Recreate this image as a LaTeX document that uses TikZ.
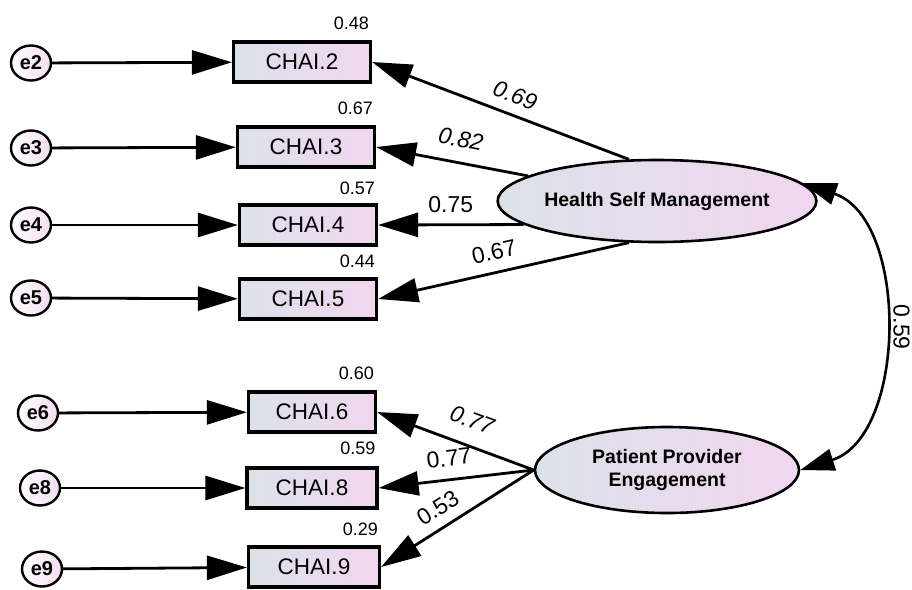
\documentclass[tikz,border=0pt]{standalone}
\usepackage{fontspec}
\setmainfont{Liberation Sans}
\usepackage{tikz}
\usetikzlibrary{shapes.geometric, arrows.meta, positioning}

\definecolor{boxL}{HTML}{DCE1E9}
\definecolor{boxR}{HTML}{F1D6F0}
\definecolor{errR}{HTML}{F3DDF2}

\begin{document}
\begin{tikzpicture}[x=1pt, y=-1pt,
    item/.style={draw, line width=3.2pt, minimum width=137pt, minimum height=40pt, inner sep=0pt, left color=boxL, right color=boxR, font=\fontsize{22.5}{24}\selectfont},
    err/.style={ellipse, draw, line width=2.4pt, minimum width=40pt, minimum height=35pt, inner sep=0pt, left color=white, right color=errR, font=\bfseries\fontsize{20}{22}\selectfont},
    factor/.style={ellipse, draw, line width=2.6pt, inner sep=0pt, align=center, left color=boxL, right color=boxR, font=\bfseries\fontsize{19.5}{23}\selectfont},
    reg/.style={line width=2.8pt, -{Triangle[length=40pt, width=24pt]}},
    load/.style={line width=2.8pt, {Triangle[length=40pt, width=24pt]}-},
    cov/.style={line width=2.6pt, {Triangle[length=34pt, width=22pt]}-{Triangle[length=34pt, width=22pt]}},
    wt/.style={inner sep=1pt, font=\fontsize{23}{24}\selectfont},
    wti/.style={inner sep=1pt, font=\itshape\fontsize{23}{24}\selectfont},
    sq/.style={inner sep=0pt, font=\fontsize{18}{20}\selectfont}
]
    \useasboundingbox (0,0) rectangle (912,589);

    % Error terms
    \node[err] (e2) at (31,63) {e2};
    \node[err] (e3) at (31,148) {e3};
    \node[err] (e4) at (31,225) {e4};
    \node[err] (e5) at (31,298) {e5};
    \node[err] (e6) at (38,413) {e6};
    \node[err] (e8) at (40,488) {e8};
    \node[err] (e9) at (42,569) {e9};

    % Items
    \node[item] (c2) at (302,62) {CHAI.2};
    \node[item] (c3) at (306,147) {CHAI.3};
    \node[item] (c4) at (308,225) {CHAI.4};
    \node[item] (c5) at (308,299) {CHAI.5};
    \node[item, minimum width=127pt] (c6) at (312,412) {CHAI.6};
    \node[item, minimum width=130pt] (c8) at (312,488) {CHAI.8};
    \node[item, minimum width=131pt] (c9) at (314,567) {CHAI.9};

    % Squared multiple correlations
    \node[sq, above left=11pt and 3pt of c2.north east] (r2) {0.48};
    \node[sq, above left=11pt and 3pt of c3.north east] (r3) {0.67};
    \node[sq, above left=9pt and 3pt of c4.north east] (r4) {0.57};
    \node[sq, above left=10pt and 3pt of c5.north east] (r5) {0.44};
    \node[sq, above left=11pt and 3pt of c6.north east] (r6) {0.60};
    \node[sq, above left=12pt and 3pt of c8.north east] (r8) {0.59};
    \node[sq, above left=10pt and 3pt of c9.north east] (r9) {0.29};

    % Factors
    \node[factor, minimum width=276pt, minimum height=82pt] (hsm) at (657,201) {Health Self Management};
    \node[factor, minimum width=264pt, minimum height=86pt] (ppe) at (667,470) {Patient Provider\\Engagement};

    % Error paths
    \foreach \i in {2,3,4,5,6,8,9}
        \draw[reg] (e\i) -- (c\i);

    % Loadings
    \draw[load] (c2.east) -- (hsm.124) node[wti, sloped, above=9pt, pos=0.53] {0.69};
    \draw[load] (c3.east) -- (hsm.169.5) node[wti, sloped, above=13pt, pos=0.53] {0.82};
    \draw[load] (c4.east) -- (hsm.190.5) node[wt, sloped, above=10pt, pos=0.5] {0.75};
    \draw[load] (c5.east) -- (hsm.236) node[wt, sloped, above=10pt, pos=0.48] {0.67};
    \draw[load] (c6.east) -- (ppe.west) node[wti, sloped, above=15pt, pos=0.55] {0.77};
    \draw[load] (c8.east) -- (ppe.west) node[wt, sloped, above=11pt, pos=0.47] {0.77};
    \draw[load] (c9.east) -- (ppe.west) node[wt, sloped, above=9pt, pos=0.44] {0.53};

    % Covariance
    \draw[cov] (hsm.7) to[bend left=72] node[wt, midway, xshift=20pt, rotate=-90] {0.59} (ppe.east);
\end{tikzpicture}
\end{document}
